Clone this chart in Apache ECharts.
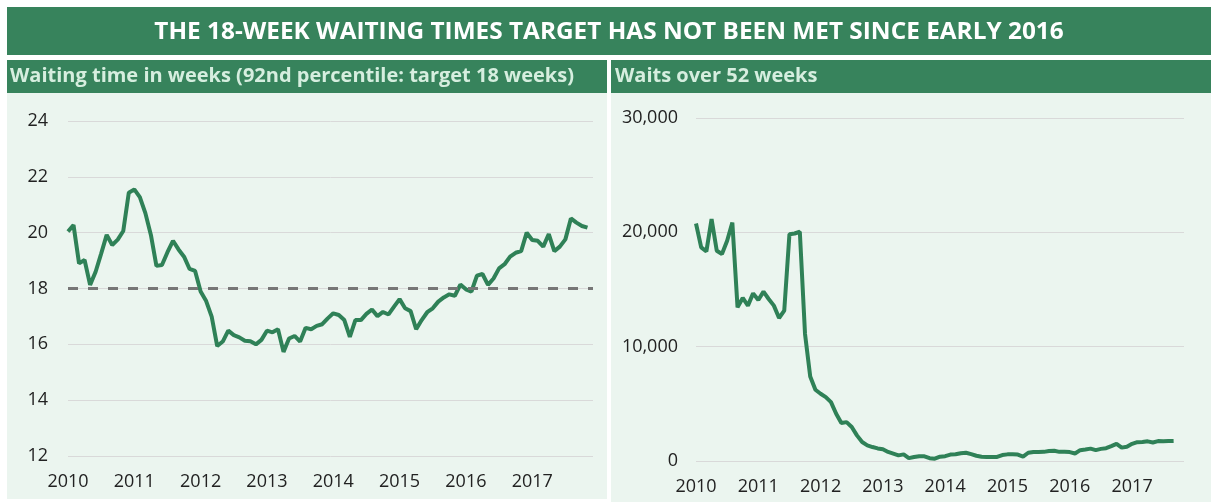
<!DOCTYPE html>
<html lang="en">
<head>
    <meta charset="UTF-8">
    <title>18-week waiting times</title>
    <style>
        html, body { margin: 0; padding: 0; background: #fff; }
    </style>
</head>
<body>
    <div id="main" style="width: 1211px;height:502px;"></div>

    <script src="https://cdn.jsdelivr.net/npm/echarts@6/dist/echarts.min.js"></script>
    <script type="text/javascript">
        // months counted from Jan 2010
        var startYear = 2010
        var targetWeeks = 18

        // 92nd percentile wait, weeks, Jan 2010 - Nov 2017
        var waitWeeks = [
            20.04, 20.27, 18.90, 19.02, 18.13, 18.60, 19.25, 19.92, 19.56, 19.75, 20.06, 21.43,
            21.55, 21.27, 20.70, 19.92, 18.81, 18.84, 19.30, 19.71, 19.40, 19.14, 18.70, 18.63,
            17.89, 17.55, 16.99, 15.94, 16.10, 16.49, 16.33, 16.25, 16.13, 16.11, 16.00, 16.16,
            16.49, 16.43, 16.54, 15.73, 16.21, 16.30, 16.10, 16.59, 16.54, 16.66, 16.72, 16.93,
            17.11, 17.05, 16.87, 16.27, 16.87, 16.87, 17.09, 17.25, 17.01, 17.16, 17.07, 17.35,
            17.62, 17.29, 17.19, 16.54, 16.87, 17.15, 17.29, 17.53, 17.68, 17.79, 17.74, 18.14,
            17.97, 17.89, 18.46, 18.52, 18.13, 18.36, 18.72, 18.87, 19.14, 19.28, 19.34, 20.00,
            19.74, 19.71, 19.50, 19.95, 19.34, 19.50, 19.76, 20.51, 20.36, 20.24, 20.18
        ]

        // number waiting over 52 weeks, Jan 2010 - Sep 2017
        var over52 = [
            20770, 18680, 18330, 21150, 18390, 18100, 19260, 20860, 13440, 14260, 13590, 14660,
            14080, 14810, 14170, 13590, 12510, 13150, 19840, 19900, 20050, 11110, 7390, 6230,
            5880, 5590, 5150, 4130, 3320, 3400, 2970, 2240, 1660, 1370, 1220, 1100,
            1020, 790, 640, 490, 580, 250, 350, 420, 410, 250, 200, 380,
            420, 560, 590, 680, 720, 600, 460, 370, 350, 350, 360, 520,
            580, 580, 560, 380, 720, 790, 790, 800, 880, 900, 800, 800,
            780, 660, 950, 1000, 1080, 950, 1060, 1120, 1300, 1500, 1170, 1250,
            1500, 1650, 1660, 1720, 1620, 1740, 1720, 1750, 1760
        ]

        var titleText = 'THE 18-WEEK WAITING TIMES TARGET HAS NOT BEEN MET SINCE EARLY 2016'
        var leftHead = 'Waiting time in weeks (92nd percentile: target 18 weeks)'
        var rightHead = 'Waits over 52 weeks'

        var green = '#37835c'
        var lineGreen = '#2f8157'
        var panelBg = '#ebf5ef'
        var headText = '#d6eedf'
        var font = '"Open Sans", "DejaVu Sans", sans-serif'

        let toPairs = arr => arr.map((v, i) => [i, v])
        let yearLabel = v => v % 12 === 0 ? String(startYear + v / 12) : ''

        var myChart = echarts.init(document.getElementById('main'))

        function xAxisFor(gridIndex, max) {
            return {
                type: 'value', gridIndex: gridIndex, min: 0, max: max, interval: 12,
                axisLine: {show: false}, axisTick: {show: false}, splitLine: {show: false},
                axisLabel: {formatter: yearLabel, color: '#222', fontSize: 18, fontFamily: font, margin: 17}
            }
        }

        var option = {
            animation: false,
            backgroundColor: '#fff',
            graphic: [
                {type: 'rect', shape: {x: 7, y: 7, width: 1204, height: 48}, style: {fill: green}},
                {type: 'rect', shape: {x: 7, y: 60, width: 600, height: 33}, style: {fill: green}},
                {type: 'rect', shape: {x: 611, y: 60, width: 600, height: 33}, style: {fill: green}},
                {type: 'rect', shape: {x: 7, y: 93, width: 600, height: 406}, style: {fill: panelBg}},
                {type: 'rect', shape: {x: 611, y: 93, width: 600, height: 409}, style: {fill: panelBg}},
                {
                    type: 'text', x: 609, y: 32, scaleX: 1.015,
                    style: {text: titleText, fill: '#fff', font: 'bold 24px ' + font, align: 'center', verticalAlign: 'middle'}
                },
                {
                    type: 'text', x: 10, y: 76,
                    style: {text: leftHead, fill: headText, font: 'bold 20px ' + font, align: 'left', verticalAlign: 'middle'}
                },
                {
                    type: 'text', x: 615, y: 76,
                    style: {text: rightHead, fill: headText, font: 'bold 20px ' + font, align: 'left', verticalAlign: 'middle'}
                }
            ],
            grid: [
                {left: 68, right: 618, top: 121, bottom: 46},
                {left: 696, right: 27, top: 118, bottom: 41}
            ],
            xAxis: [xAxisFor(0, 95), xAxisFor(1, 94)],
            yAxis: [
                {
                    type: 'value', gridIndex: 0, min: 12, max: 24, interval: 2,
                    axisLine: {show: false}, axisTick: {show: false},
                    splitLine: {lineStyle: {color: '#d9d9d9', width: 1}},
                    axisLabel: {color: '#222', fontSize: 18, fontFamily: font, margin: 20}
                },
                {
                    type: 'value', gridIndex: 1, min: 0, max: 30000, interval: 10000,
                    axisLine: {show: false}, axisTick: {show: false},
                    splitLine: {lineStyle: {color: '#d9d9d9', width: 1}},
                    axisLabel: {
                        color: '#222', fontSize: 18, fontFamily: font, margin: 18,
                        formatter: v => v.toLocaleString('en-GB')
                    }
                }
            ],
            series: [
                {
                    type: 'line', xAxisIndex: 0, yAxisIndex: 0,
                    data: toPairs(waitWeeks), showSymbol: false,
                    lineStyle: {color: lineGreen, width: 4}, z: 3,
                    markLine: {
                        silent: true, symbol: 'none', label: {show: false},
                        lineStyle: {color: '#767676', type: [10, 10], width: 3},
                        data: [{yAxis: targetWeeks}]
                    }
                },
                {
                    type: 'line', xAxisIndex: 1, yAxisIndex: 1,
                    data: toPairs(over52), showSymbol: false,
                    lineStyle: {color: lineGreen, width: 4}
                }
            ]
        }
        myChart.setOption(option)
    </script>
</body>
</html>
